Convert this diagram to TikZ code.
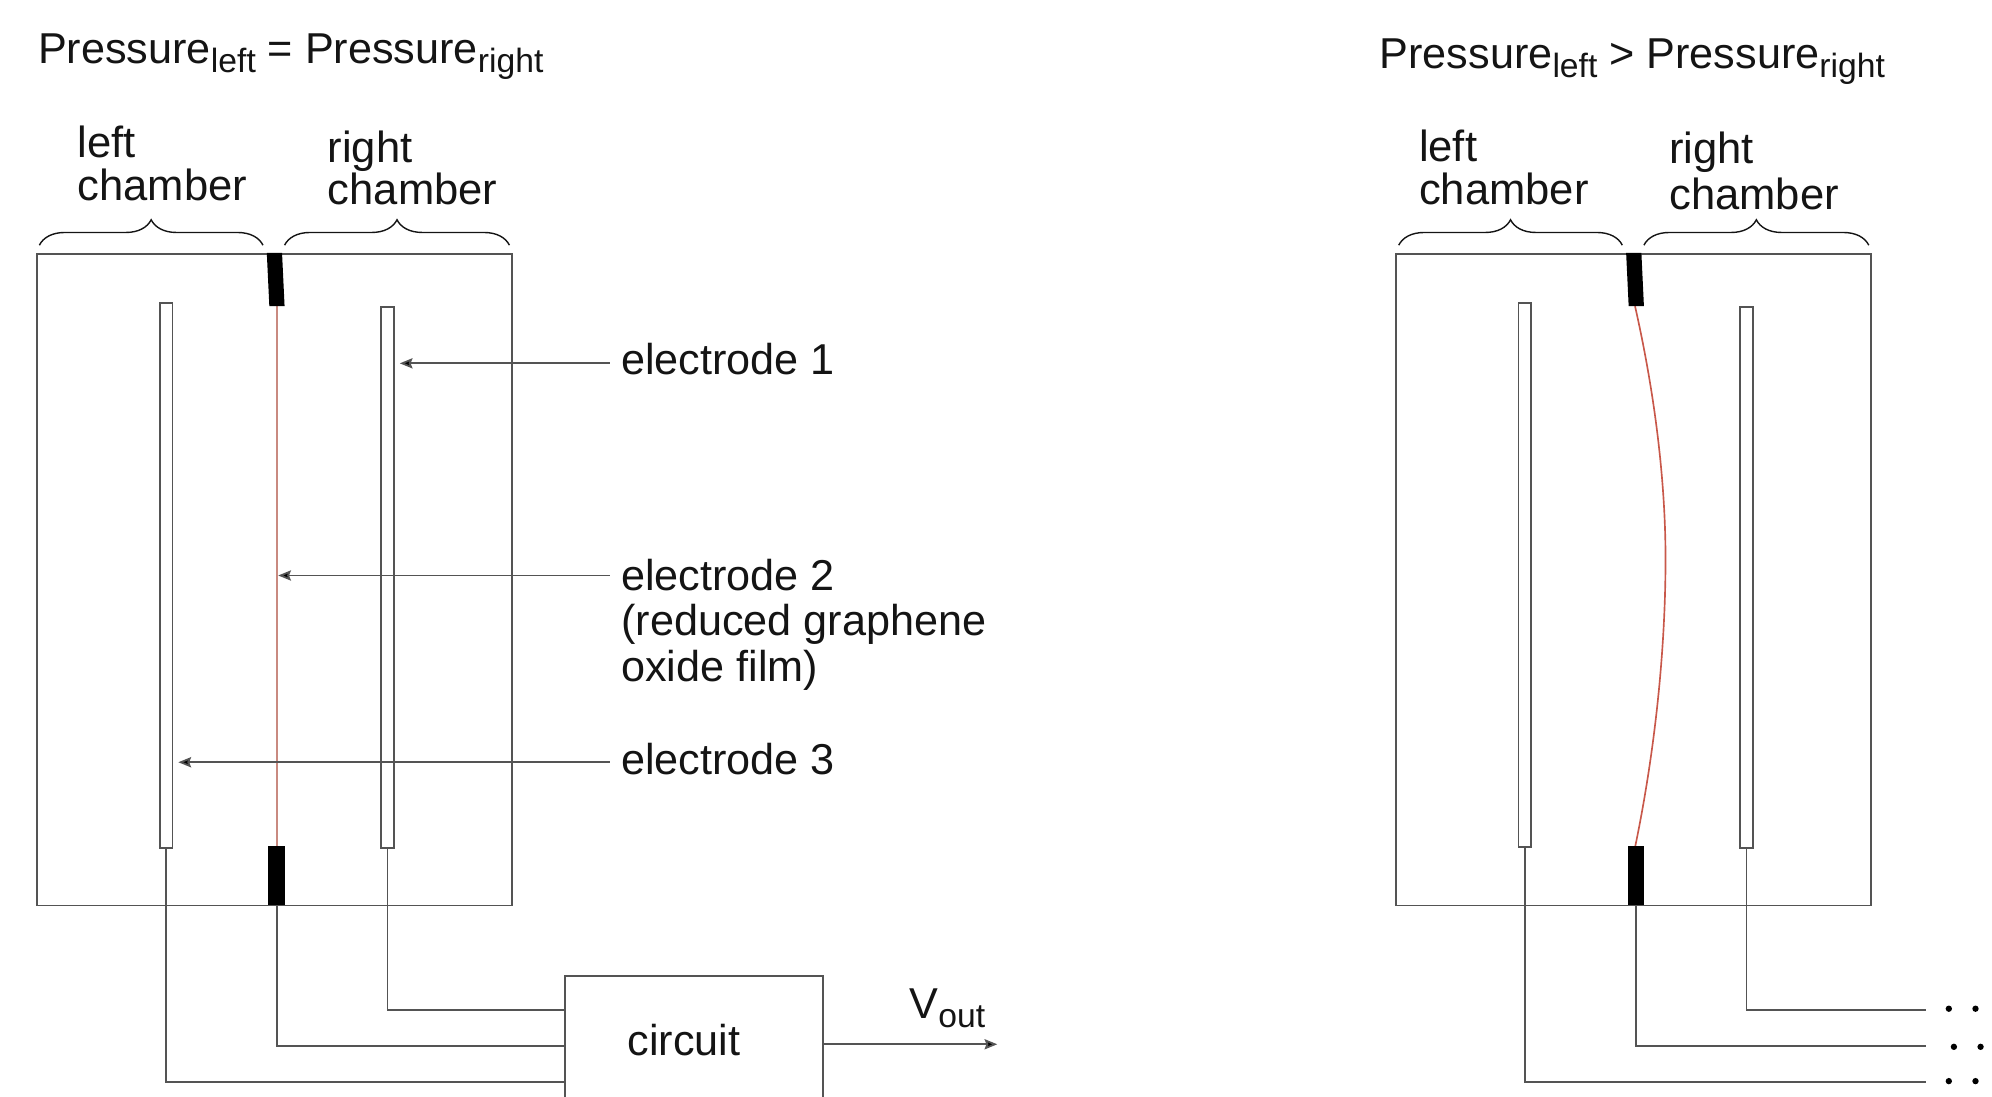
\documentclass[tikz,border=0pt]{standalone}
\usepackage{fontspec}
\setmainfont{Liberation Sans}
\usetikzlibrary{decorations.pathreplacing,arrows.meta}
\newcommand{\subtxt}[1]{\raisebox{-7pt}{\fontsize{26.5}{26.5}\selectfont #1}}
\definecolor{wire}{gray}{0.33}
\definecolor{filmpale}{HTML}{C98A80}
\definecolor{filmred}{HTML}{C8584A}
\definecolor{inktext}{gray}{0.08}
\tikzset{
  lab/.style={anchor=base west,inner sep=0pt,outer sep=0pt,align=left,text=inktext,font=\fontsize{34}{35}\selectfont},
  chamberlab/.style={lab,font=\fontsize{34.3}{35}\selectfont},
  chamberbox/.style={draw=wire,line width=1.5pt,fill=none,anchor=north west,inner sep=0pt,minimum width=374pt,minimum height=513pt},
  electrode/.style={draw=wire,line width=1.4pt,fill=white,anchor=north west,inner sep=0pt,minimum width=10pt},
  wireline/.style={draw=wire,line width=1.5pt},
  pointer/.style={draw=wire,line width=1.4pt,-{Stealth[length=10pt,width=8pt,inset=1.5pt,fill=black]}},
  bracelet/.style={draw=inktext,line width=1.1pt,decorate,decoration={brace,amplitude=20pt}},
  filler/.style={fill=black,draw=none},
  clamp/.style={fill=black,draw=none,anchor=north west,inner sep=0pt,minimum width=13pt,minimum height=46pt},
  dotty/.style={circle,fill=black,inner sep=0pt,minimum size=5pt},
}
\begin{document}
\begin{tikzpicture}[x=1pt,y=-1pt]
\useasboundingbox (0,0) rectangle (1568,863.5);
\clip (0,0) rectangle (1568,863.5);
% titles
\node[lab] (t1) at (30,50) {Pressure\subtxt{left} = Pressure\subtxt{right}};
\node[lab] (t2) at (1086,54) {Pressure\subtxt{left} > Pressure\subtxt{right}};
% chamber labels
\node[chamberlab] (lc1) at (61,124) {left};
\node[chamberlab] (lc1b) at (61,158) {chamber};
\node[chamberlab] (rc1) at (258,128) {right};
\node[chamberlab] (rc1b) at (258,161) {chamber};
\node[chamberlab] (lc2) at (1117,127) {left};
\node[chamberlab] (lc2b) at (1117,161) {chamber};
\node[chamberlab] (rc2) at (1314,129) {right};
\node[chamberlab] (rc2b) at (1314,165) {chamber};
% braces
\coordinate (b1a) at (31,193); \coordinate (b1b) at (207,193);
\coordinate (b2a) at (224,193); \coordinate (b2b) at (401,193);
\coordinate (b3a) at (1101,193); \coordinate (b3b) at (1277,193);
\coordinate (b4a) at (1294,193); \coordinate (b4b) at (1471,193);
\draw[bracelet] (b1a) -- (b1b);
\draw[bracelet] (b2a) -- (b2b);
\draw[bracelet] (b3a) -- (b3b);
\draw[bracelet] (b4a) -- (b4b);
% chambers
\node[chamberbox] (box1) at (28.3,199) {};
\node[chamberbox] (box2) at (1098.3,199) {};
% electrodes
\node[electrode,minimum height=429pt] (e3a) at (125,238) {};
\node[electrode,minimum height=426pt] (e1a) at (299.3,241) {};
\node[electrode,minimum height=428pt] (e3b) at (1194.6,238) {};
\node[electrode,minimum height=426pt] (e1b) at (1369,241) {};
% film
\coordinate (fat) at (218,241); \coordinate (fab) at (218,667);
\coordinate (fbt) at (1287,241); \coordinate (fbb) at (1287,667);
\draw[draw=filmpale,line width=1.8pt] (fat) -- (fab);
\draw[draw=filmred,line width=1.3pt] (fbt) .. controls (1303,312) and (1311,380) .. (1311,440) .. controls (1311,510) and (1303,590) .. (fbb);
% clamps
\filldraw[filler] (210,199) -- (222,199) -- (224,241) -- (212,241) -- cycle;
\filldraw[filler] (1280,199) -- (1292,199) -- (1294,241) -- (1282,241) -- cycle;
\node[clamp] (k1) at (211,666) {};
\node[clamp] (k2) at (1281,666) {};
% circuit
\node[draw=wire,line width=1.5pt,inner sep=0pt,minimum width=203pt,minimum height=102pt] (circ) at (546.5,819) {};
\node[lab] (circlab) at (494,831) {circuit};
\coordinate (c1) at (445,795); \coordinate (c2) at (445,823); \coordinate (c3) at (445,852);
\draw[wireline] (e1a.south) |- (c1);
\draw[wireline] (k1.south) |- (c2);
\draw[wireline] (e3a.south) |- (c3);
% right panel wires
\coordinate (d1) at (1516,795); \coordinate (d2) at (1516,823); \coordinate (d3) at (1516,852);
\draw[wireline] (e1b.south) |- (d1);
\draw[wireline] (k2.south) |- (d2);
\draw[wireline] (e3b.south) |- (d3);
\node[dotty] (p1) at (1534,794) {}; \node[dotty] (p2) at (1555,794) {};
\node[dotty] (p3) at (1538,824) {}; \node[dotty] (p4) at (1559,824) {};
\node[dotty] (p5) at (1534,851) {}; \node[dotty] (p6) at (1555,851) {};
% Vout
\node[lab] (vout) at (716,802) {V\subtxt{out}};
\coordinate (vend) at (785,822);
\draw[pointer] (circ.east |- vend) -- (vend);
% callouts
\node[lab] (l1) at (489,295) {electrode 1};
\node[lab] (l2) at (489,465) {electrode 2};
\node[lab] (l2b) at (489,500.5) {(reduced graphene};
\node[lab] (l2c) at (489,536.5) {oxide film)};
\node[lab] (l3) at (489,610) {electrode 3};
\coordinate (a1) at (480,286); \coordinate (a2) at (480,453); \coordinate (a3) at (480,600);
\draw[pointer,shorten >=4pt] (a1) -- (e1a.east |- a1);
\draw[pointer,shorten >=1pt] (a2) -- (fat |- a2);
\draw[pointer,shorten >=4pt] (a3) -- (e3a.east |- a3);
\end{tikzpicture}
\end{document}
